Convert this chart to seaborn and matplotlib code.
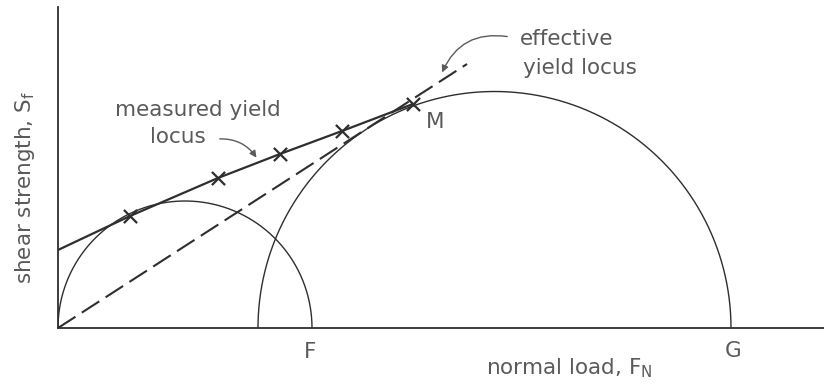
import numpy as np
import pandas as pd
import matplotlib
matplotlib.use("Agg")
import matplotlib.pyplot as plt
import seaborn as sns

# ---- data (arbitrary units) ----
measured_x = [0.0, 7.2, 16.0, 22.2, 28.4, 35.5]
measured_y = [7.8, 11.2, 15.0, 17.4, 19.7, 22.4]
cross_x = [7.2, 16.0, 22.2, 28.4, 35.5]
cross_y = [11.2, 15.0, 17.4, 19.7, 22.4]
effective_x = [0.0, 40.9]
effective_y = [0.0, 26.4]
circle_left = [0.0, 20.0]     # left end of each Mohr semicircle
circle_right = [25.4, 67.3]   # right end (F, G)
x_max, y_max = 76.6, 32.1

sns.set_theme(style="white")
plt.rcParams['font.family'] = ['DejaVu Sans']
line_c = "#2e2e2e"
text_c = "#5a5a5a"

fig = plt.figure(figsize=(8.24, 3.87), dpi=100)
ax = fig.add_axes([58/824, (387-328)/387, 766/824, (328-7)/387])

# semicircles
for lo, hi in zip(circle_left, circle_right):
    c, r = (lo + hi) / 2, (hi - lo) / 2
    t = np.linspace(0, np.pi, 300)
    df = pd.DataFrame({"x": c + r*np.cos(t), "y": r*np.sin(t)})
    sns.lineplot(data=df, x="x", y="y", sort=False, ax=ax, color=line_c, lw=1.0)

# measured yield locus
sns.lineplot(x=measured_x, y=measured_y, sort=False, ax=ax, color=line_c, lw=1.6)
sns.scatterplot(x=cross_x, y=cross_y, ax=ax, marker="x", s=90, color=line_c,
                linewidth=1.6, zorder=5)
# effective yield locus
sns.lineplot(x=effective_x, y=effective_y, sort=False, ax=ax, color=line_c, lw=1.5,
             linestyle=(0, (10, 3.6)))

ax.set_xlim(0, x_max)
ax.set_ylim(0, y_max)
ax.set_xticks([]); ax.set_yticks([])
ax.set_xlabel(""); ax.set_ylabel("")
for s in ["top", "right"]:
    ax.spines[s].set_visible(False)
for s in ["left", "bottom"]:
    ax.spines[s].set_color(line_c)
    ax.spines[s].set_linewidth(1.3)

fs = 15.5
ax.text(5.7, 21.8, "measured yield", fontsize=fs, color=text_c, ha="left", va="center")
ax.text(9.2, 19.1, "locus", fontsize=fs, color=text_c, ha="left", va="center")
ax.text(46.2, 28.9, "effective", fontsize=fs, color=text_c, ha="left", va="center")
ax.text(46.5, 26.0, "yield locus", fontsize=fs, color=text_c, ha="left", va="center")
ax.text(37.7, 20.6, "M", fontsize=fs, color=text_c, ha="center", va="center")
ax.text(25.2, -2.4, "F", fontsize=fs, color=text_c, ha="center", va="center", clip_on=False)
ax.text(67.5, -2.3, "G", fontsize=fs, color=text_c, ha="center", va="center", clip_on=False)
ax.text(51.1, -4.0, r"normal load, F$_\mathregular{N}$", fontsize=fs, color=text_c,
        ha="center", va="center", clip_on=False)
fig.text(25/824, 1 - 187/387, r"shear strength, S$_\mathregular{f}$", fontsize=fs,
         color=text_c, rotation=90, ha="center", va="center")

ax.annotate("", xy=(20.0, 16.8), xytext=(15.9, 18.9),
            arrowprops=dict(arrowstyle="-|>", color=text_c, lw=1.0,
                            connectionstyle="arc3,rad=-0.3", mutation_scale=10))
ax.annotate("", xy=(38.3, 25.3), xytext=(45.2, 29.1),
            arrowprops=dict(arrowstyle="-|>", color=text_c, lw=1.0,
                            connectionstyle="arc3,rad=0.4", mutation_scale=10))

fig.savefig("out.png", dpi=100)
